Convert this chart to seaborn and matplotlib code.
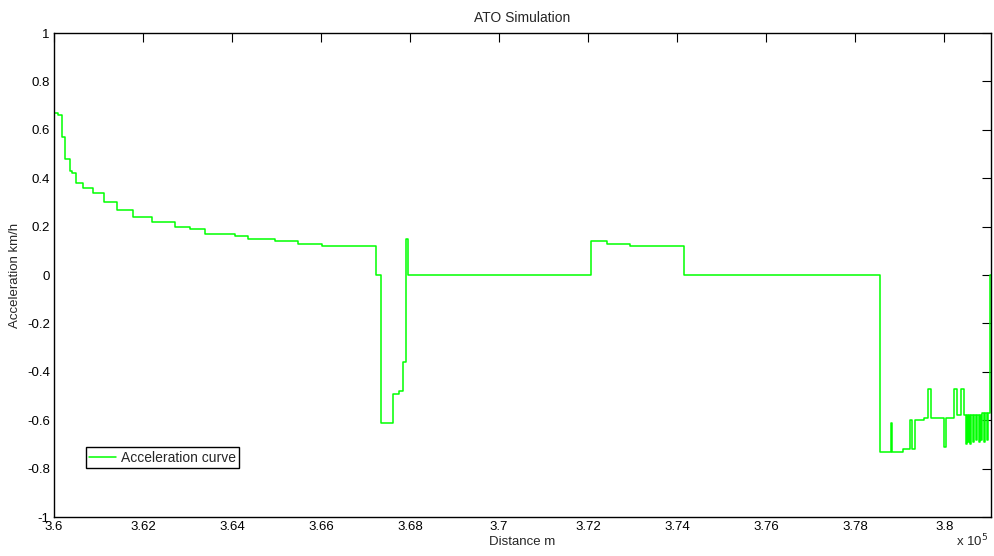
import numpy as np
import pandas as pd
import seaborn as sns
from matplotlib import pyplot as plt
from matplotlib.ticker import FuncFormatter, MultipleLocator

# breakpoints of the acceleration curve (distance in m, acceleration)
distance = [360020, 360097, 360187, 360254, 360360, 360404, 360501, 360658, 360883,
            361124, 361409, 361768, 362209, 362719, 363056, 363393, 364067, 364366,
            364966, 365489, 366015, 367235, 367341, 367624, 367745, 367849, 367903,
            367961, 372059, 372419, 372943, 374156, 378560, 378800, 378836, 379083,
            379234, 379286, 379346, 379549, 379645, 379706, 379998, 380030, 380223,
            380297, 380380, 380454, 380493, 380515, 380538, 380560, 380583, 380605,
            380639, 380661, 380718, 380740, 380778, 380800, 380830, 380852, 380897,
            380920, 380953, 380976, 381016, 381050]
accel = [0.67, 0.66, 0.57, 0.48, 0.43, 0.42, 0.38, 0.36, 0.34,
         0.30, 0.27, 0.24, 0.22, 0.20, 0.19, 0.17, 0.16, 0.15,
         0.14, 0.13, 0.12, 0.0, -0.61, -0.49, -0.48, -0.36, 0.15,
         0.0, 0.14, 0.13, 0.12, 0.0, -0.73, -0.61, -0.73, -0.72,
         -0.60, -0.72, -0.60, -0.59, -0.47, -0.59, -0.71, -0.59, -0.47,
         -0.58, -0.47, -0.58, -0.70, -0.58, -0.69, -0.58, -0.70, -0.58,
         -0.69, -0.58, -0.68, -0.58, -0.69, -0.58, -0.68, -0.57, -0.69,
         -0.57, -0.68, -0.57, 0.0, 0.0]

df = pd.DataFrame({'distance': distance, 'accel': accel})

sns.set_style('white')
plt.rcParams['font.family'] = ['Liberation Sans', 'DejaVu Sans']
plt.rcParams['font.size'] = 9.5

fig = plt.figure(figsize=(9.94, 5.56), dpi=100)
ax = fig.add_axes([0.0543, 0.0701, 0.9427, 0.8705])

sns.lineplot(data=df, x='distance', y='accel', color='#00ff00', lw=1.1,
             drawstyle='steps-post', estimator=None, label='Acceleration curve', ax=ax)

ax.set_xlim(360000, 381050)
ax.set_ylim(-1, 1)
ax.xaxis.set_major_locator(MultipleLocator(2000))
ax.yaxis.set_major_locator(MultipleLocator(0.2))
ax.xaxis.set_major_formatter(FuncFormatter(lambda v, p: '%g' % round(v / 1e5, 4)))
ax.yaxis.set_major_formatter(FuncFormatter(lambda v, p: '%g' % round(v, 4)))
ax.tick_params(direction='in', length=6.5, width=0.8, top=True, right=True,
               labelsize=9.5, pad=3, colors='black')
for s in ax.spines.values():
    s.set_color('black')
    s.set_linewidth(1.0)

ax.set_title('ATO Simulation', fontsize=10, pad=8)
ax.set_xlabel('Distance m', fontsize=9.5, labelpad=2)
ax.set_ylabel('Acceleration km/h', fontsize=9.5, labelpad=4)
fig.text(0.962, 0.012, r'x 10$^5$', fontsize=9.5, ha='left', va='bottom')

leg = ax.legend(loc='lower left', bbox_to_anchor=(0.034, 0.101), fancybox=False,
                framealpha=1, edgecolor='black', handlelength=1.9, borderpad=0.25,
                handletextpad=0.35, borderaxespad=0, fontsize=10)
leg.get_frame().set_linewidth(1.0)

fig.savefig('out.png', dpi=100)
